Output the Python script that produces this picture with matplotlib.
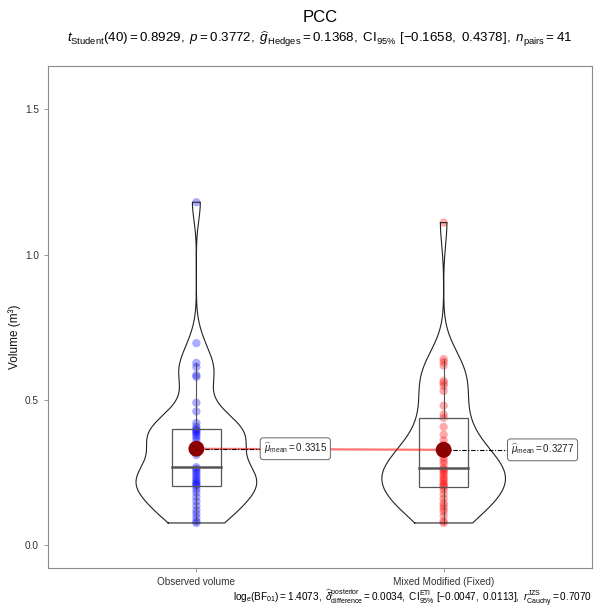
import numpy as np
import matplotlib
matplotlib.use("Agg")
import matplotlib.pyplot as plt

plt.rcParams['font.family'] = ['Liberation Sans', 'DejaVu Sans']
plt.rcParams['mathtext.fontset'] = 'custom'
plt.rcParams['mathtext.rm'] = 'Liberation Sans'
plt.rcParams['mathtext.it'] = 'Liberation Sans:italic'
plt.rcParams['mathtext.bf'] = 'Liberation Sans:bold'
plt.rcParams['mathtext.sf'] = 'Liberation Sans'

# ---- data -------------------------------------------------------------
groups = ["Observed volume", "Mixed Modified (Fixed)"]
observed = [0.076, 0.082, 0.095, 0.108, 0.120, 0.135, 0.150, 0.165, 0.180, 0.192,
            0.203,
            0.208, 0.212, 0.218, 0.225, 0.232, 0.240, 0.248, 0.255, 0.262,
            0.268,
            0.310, 0.330, 0.345, 0.360, 0.370, 0.378, 0.385, 0.390, 0.395,
            0.399,
            0.407, 0.420, 0.460, 0.490, 0.579, 0.585, 0.613, 0.627, 0.695, 1.180]
mixed = [0.076, 0.082, 0.100, 0.115, 0.125, 0.135, 0.145, 0.160, 0.175, 0.190,
         0.200,
         0.205, 0.210, 0.218, 0.225, 0.232, 0.240, 0.248, 0.255, 0.260,
         0.266,
         0.280, 0.290, 0.300, 0.315, 0.330, 0.345, 0.360, 0.380, 0.407,
         0.438,
         0.450, 0.480, 0.530, 0.548, 0.558, 0.565, 0.618, 0.630, 0.640, 1.110]
point_colors = ["#0000FF", "#FF0000"]

title = "PCC"
subtitle = (r"$t_{\mathrm{Student}}(40) = 0.8929,\ p = 0.3772,\ "
            r"\widehat{g}_{\mathrm{Hedges}} = 0.1368,\ \mathrm{CI}_{95\%}\ "
            r"[-0.1658,\ 0.4378],\ n_{\mathrm{pairs}} = 41$")
caption = (r"$\mathrm{log}_{\mathrm{e}}(\mathrm{BF}_{01}) = 1.4073,\ "
           r"\widehat{\delta}_{\mathrm{difference}}^{\mathrm{posterior}} = 0.0034,\ "
           r"\mathrm{CI}_{95\%}^{\mathrm{ETI}}\ [-0.0047,\ 0.0113],\ "
           r"r_{\mathrm{Cauchy}}^{\mathrm{JZS}} = 0.7070$")
y_label = "Volume (m³)"
y_ticks = [0.0, 0.5, 1.0, 1.5]


def kde_nrd0(values, grid):
    v = np.asarray(values)
    n = len(v)
    q1, q3 = np.percentile(v, [25, 75])
    bw = 0.9 * min(v.std(ddof=1), (q3 - q1) / 1.34) * n ** (-0.2)
    z = (grid[:, None] - v[None, :]) / bw
    return np.exp(-0.5 * z ** 2).sum(axis=1) / (n * bw * np.sqrt(2 * np.pi))


fig = plt.figure(figsize=(6.0, 6.13), dpi=100)
ax = fig.add_axes([0.08, 0.0734, 0.9067, 0.8194])

series = [np.asarray(observed), np.asarray(mixed)]
xs = [1, 2]

# densities for the violins, scaled so all share the same area
grids, dens = [], []
for v in series:
    g = np.linspace(v.min(), v.max(), 512)
    grids.append(g)
    dens.append(kde_nrd0(v, g))
dmax = max(d.max() for d in dens)
violin_width = 0.5
box_width = 0.2

means = []
for x, v, g, d, col in zip(xs, series, grids, dens, point_colors):
    # raw observations
    ax.scatter(np.full(len(v), x), v, s=36, color=col, alpha=0.33,
               edgecolors='none', zorder=2)
    # box and whiskers
    q1, med, q3 = np.percentile(v, [25, 50, 75])
    iqr = q3 - q1
    lo = v[v >= q1 - 1.5 * iqr].min()
    hi = v[v <= q3 + 1.5 * iqr].max()
    bc = '#555555'
    ax.plot([x, x], [q3, hi], color=bc, lw=0.8, zorder=3)
    ax.plot([x, x], [lo, q1], color=bc, lw=0.8, zorder=3)
    ax.add_patch(plt.Rectangle((x - box_width / 2, q1), box_width, iqr,
                               fill=False, ec=bc, lw=0.9, zorder=3))
    ax.plot([x - box_width / 2, x + box_width / 2], [med, med], color=bc,
            lw=1.8, zorder=3)
    # violin outline
    half = d / dmax * violin_width / 2
    vx = np.concatenate([x - half, (x + half)[::-1], [x - half[0]]])
    vy = np.concatenate([g, g[::-1], [g[0]]])
    ax.plot(vx, vy, color='#222222', lw=0.8, zorder=3)
    means.append(v.mean())

# path joining the group means
ax.plot(xs, means, color='red', alpha=0.55, lw=1.6, zorder=4)

label_offset = 0.4
for x, m in zip(xs, means):
    ax.plot([x, x + label_offset], [m, m], color='black', lw=0.8,
            ls=(0, (4, 1.5, 1, 1.5)), zorder=4)
    ax.scatter([x], [m], s=130, color='#8B0000', zorder=5, edgecolors='none')
    ax.text(x + label_offset, m, r"$\widehat{\mu}_{\mathrm{mean}} = %.4f$" % m,
            ha='center', va='center', fontsize=7, color='#222222', zorder=6,
            bbox=dict(boxstyle='round,pad=0.35,rounding_size=0.3', fc='white',
                      ec='#666666', lw=0.7))

ax.set_xlim(0.4, 2.6)
ax.set_ylim(-0.079, 1.65)
ax.set_xticks(xs)
ax.set_xticklabels(groups)
ax.set_yticks(y_ticks)
ax.set_yticklabels([f"{t:.1f}" for t in y_ticks])
ax.tick_params(axis='both', labelsize=7.2, colors='#888888', labelcolor='#333333',
               length=3, width=0.6)
for s in ax.spines.values():
    s.set_color('#8a8a8a')
    s.set_linewidth(0.8)
ax.set_ylabel(y_label, fontsize=8.5, color='#111111')
ax.yaxis.set_label_coords(-0.05, 0.46)

panel_cx = 0.08 + 0.9067 / 2
fig.text(panel_cx, 1 - 17 / 613, title, ha='center', va='center', fontsize=12)
fig.text(panel_cx, 1 - 39 / 613, subtitle, ha='center', va='center', fontsize=9.6)
fig.text(0.9867, 1 - 598 / 613, caption, ha='right', va='center', fontsize=7.2)

fig.savefig("out.png", dpi=100)
